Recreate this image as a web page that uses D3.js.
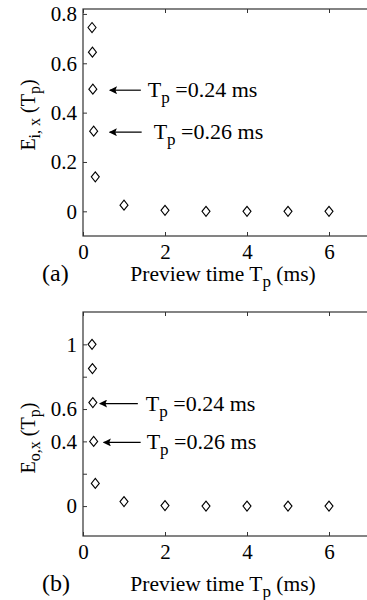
<!DOCTYPE html>
<html lang="en">
<head>
    <meta charset="UTF-8">
    <title>Preview time</title>
    <script src="https://d3js.org/d3.v7.min.js"></script>
    <style>
        body { margin: 0; background: #fff; }
        svg { display: block; }
    </style>
</head>
<body>
    <svg id="chart" width="367" height="600" font-family="'Liberation Serif', 'Times New Roman', Tinos, 'DejaVu Serif', serif"></svg>

    <script>
        const serif = "'Liberation Serif', 'Times New Roman', Tinos, 'DejaVu Serif', serif";

        // preview time (ms)
        const previewTimes = [0.22, 0.23, 0.24, 0.26, 0.3, 1, 2, 3, 4, 5, 6];
        // error values for the two panels
        const errInput = [0.745, 0.645, 0.495, 0.325, 0.14, 0.025, 0.004, 0, 0, 0, 0];
        const errOutput = [1.0, 0.85, 0.64, 0.40, 0.14, 0.028, 0.003, 0, 0, 0, 0];

        const xTicks = [0, 2, 4, 6];
        const yTicksA = [0, 0.2, 0.4, 0.6, 0.8];
        const yTickLabelsA = ["0", "0.2", "0.4", "0.6", "0.8"];
        const yTicksB = [0, 0.2, 0.4, 0.6, 0.8, 1];
        const yTickLabelsB = ["0", "", "0.4", "0.6", "", "1"];

        // annotated points
        const notesA = [{ x: 0.24, y: 0.495, label: "0.24" }, { x: 0.26, y: 0.325, label: "0.26" }];
        const notesB = [{ x: 0.24, y: 0.64, label: "0.24" }, { x: 0.26, y: 0.40, label: "0.26" }];

        const svg = d3.select("#chart");

        svg.append("defs").append("marker")
            .attr("id", "arrow")
            .attr("viewBox", "0 0 10 10")
            .attr("refX", 9).attr("refY", 5)
            .attr("markerWidth", 11).attr("markerHeight", 8)
            .attr("markerUnits", "userSpaceOnUse")
            .attr("orient", "auto")
            .append("path")
            .attr("d", "M0,0 L10,5 L0,10 L2,5 Z")
            .attr("fill", "#000");

        function diamond(cx, cy) {
            return `M${cx},${cy - 5}L${cx + 4},${cy}L${cx},${cy + 5}L${cx - 4},${cy}Z`;
        }

        function panel(opts) {
            const g = svg.append("g");
            const x = d3.scaleLinear().domain([0, 7]).range([83, 370]);
            const y = d3.scaleLinear().domain(opts.yDomain).range([opts.bottom, opts.top]);

            // box
            g.append("rect")
                .attr("x", x(0)).attr("y", opts.top)
                .attr("width", x(7) - x(0)).attr("height", opts.bottom - opts.top)
                .attr("fill", "none").attr("stroke", "#333").attr("stroke-width", 1.2);

            // inward ticks
            const xAxis = d3.axisBottom(x).tickValues(xTicks).tickSize(-4).tickPadding(8)
                .tickFormat(d3.format("d"));
            const xg = g.append("g").attr("transform", `translate(0,${opts.bottom})`).call(xAxis);
            g.append("g").attr("transform", `translate(0,${opts.top})`)
                .call(d3.axisTop(x).tickValues(xTicks).tickSize(-4).tickFormat(""));

            const yAxis = d3.axisLeft(y).tickValues(opts.yTicks).tickSize(-4).tickPadding(6)
                .tickFormat((d, i) => opts.yLabels[i]);
            const yg = g.append("g").attr("transform", `translate(${x(0)},0)`).call(yAxis);

            g.selectAll(".domain").remove();
            g.selectAll(".tick line").attr("stroke", "#333");
            [xg, yg].forEach(a => a.attr("font-family", serif).selectAll("text")
                .attr("font-size", 21).attr("fill", "#000"));

            // points
            g.selectAll(".pt")
                .data(previewTimes.map((t, i) => ({ t, v: opts.values[i] })))
                .join("path")
                .attr("class", "pt")
                .attr("d", d => diamond(x(d.t), y(d.v)))
                .attr("fill", "#fff").attr("stroke", "#000").attr("stroke-width", 1.1);

            // annotations
            opts.notes.forEach((n, i) => {
                const py = y(n.y) + 1;
                g.append("line")
                    .attr("x1", x(n.x) + opts.arrowLen[i][1]).attr("x2", x(n.x) + opts.arrowLen[i][0])
                    .attr("y1", py).attr("y2", py)
                    .attr("stroke", "#000").attr("stroke-width", 1.2)
                    .attr("marker-end", "url(#arrow)");
                const t = g.append("text")
                    .attr("x", x(n.x) + opts.textOff[i]).attr("y", py + 7)
                    .attr("font-size", 22);
                t.append("tspan").text("T");
                t.append("tspan").attr("dy", 6).attr("font-size", 17).text("p");
                t.append("tspan").attr("dy", -6).text(" =" + n.label + " ms");
            });

            // y label
            const yl = g.append("text")
                .attr("transform", `translate(35,${opts.yLabelY}) rotate(-90)`)
                .attr("text-anchor", "middle").attr("font-size", 20);
            yl.append("tspan").text("E");
            yl.append("tspan").attr("dy", 5).attr("font-size", 16).text(opts.sub);
            yl.append("tspan").attr("dy", -5).text(" (T");
            yl.append("tspan").attr("dy", 5).attr("font-size", 16).text("p");
            yl.append("tspan").attr("dy", -5).text(")");

            // x label
            const xl = g.append("text")
                .attr("x", 223).attr("y", opts.xLabelY)
                .attr("text-anchor", "middle").attr("font-size", 21.5);
            xl.append("tspan").text("Preview time T");
            xl.append("tspan").attr("dy", 6).attr("font-size", 17).text("p");
            xl.append("tspan").attr("dy", -6).text(" (ms)");

            g.append("text")
                .attr("x", 42).attr("y", opts.xLabelY)
                .attr("font-size", 24).text(opts.tag);
        }

        panel({
            top: 9, bottom: 236, yDomain: [-0.1, 0.82],
            yTicks: yTicksA, yLabels: yTickLabelsA, values: errInput, notes: notesA,
            arrowLen: [[17, 48], [16, 48]], textOff: [55, 60],
            sub: "i, x", yLabelY: 115, xLabelY: 281, tag: "(a)"
        });

        panel({
            top: 312, bottom: 536, yDomain: [-0.185, 1.2],
            yTicks: yTicksB, yLabels: yTickLabelsB, values: errOutput, notes: notesB,
            arrowLen: [[7, 45], [10, 47]], textOff: [53, 53],
            sub: "o,x", yLabelY: 438, xLabelY: 591, tag: "(b)"
        });
    </script>
</body>
</html>
